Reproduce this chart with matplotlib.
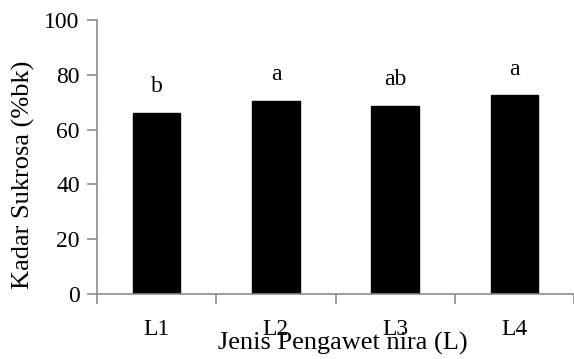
import matplotlib
matplotlib.use("Agg")
import matplotlib.pyplot as plt
import numpy as np

# Data
kategori = ["L1", "L2", "L3", "L4"]
kadar_sukrosa = [66.0, 70.4, 68.5, 72.5]
notasi = ["b", "a", "ab", "a"]

plt.rcParams["font.family"] = ["Liberation Serif", "DejaVu Serif"]

W, H = 574, 359
fig = plt.figure(figsize=(W / 100, H / 100), dpi=100)
# axis box in pixels: left 97, right 574, bottom 294, top 20
ax = fig.add_axes([97 / W, (H - 294) / H, (574 - 97) / W, (294 - 20) / H])

x = np.arange(len(kategori))
bars = ax.bar(x, kadar_sukrosa, width=0.4, color="black", edgecolor="black")

# letters above bars
for xi, v, t in zip(x, kadar_sukrosa, notasi):
    ax.annotate(t, (xi, v), xytext=(0, 15), textcoords="offset points",
                ha="center", va="baseline", fontsize=17)

ax.set_ylim(0, 100)
ax.set_yticks(np.arange(0, 101, 20))
ax.set_xlim(-0.5, -0.5 + 477 / 121.5)
ax.set_xticks(x)
ax.set_xticklabels(kategori)
ax.set_xticks(np.arange(-0.5, len(kategori), 1.0), minor=True)

grey = "#8c8c8c"
for s in ["top", "right"]:
    ax.spines[s].set_visible(False)
for s in ["left", "bottom"]:
    ax.spines[s].set_color(grey)
    ax.spines[s].set_linewidth(1.2)

ax.tick_params(axis="x", which="major", length=0, pad=18, labelsize=17)
ax.tick_params(axis="x", which="minor", length=7.5, width=1.2, color=grey, direction="out")
ax.tick_params(axis="y", length=7.5, width=1.2, color=grey, pad=5, labelsize=17)

ax.set_ylabel("Kadar Sukrosa (%bk)", fontsize=19)
ax.yaxis.set_label_coords(-0.13, 0.434)
ax.set_xlabel("Jenis Pengawet nira (L)", fontsize=19, va="baseline")
ax.xaxis.set_label_coords(0.515, -0.204)

fig.savefig("out.png", dpi=100)
